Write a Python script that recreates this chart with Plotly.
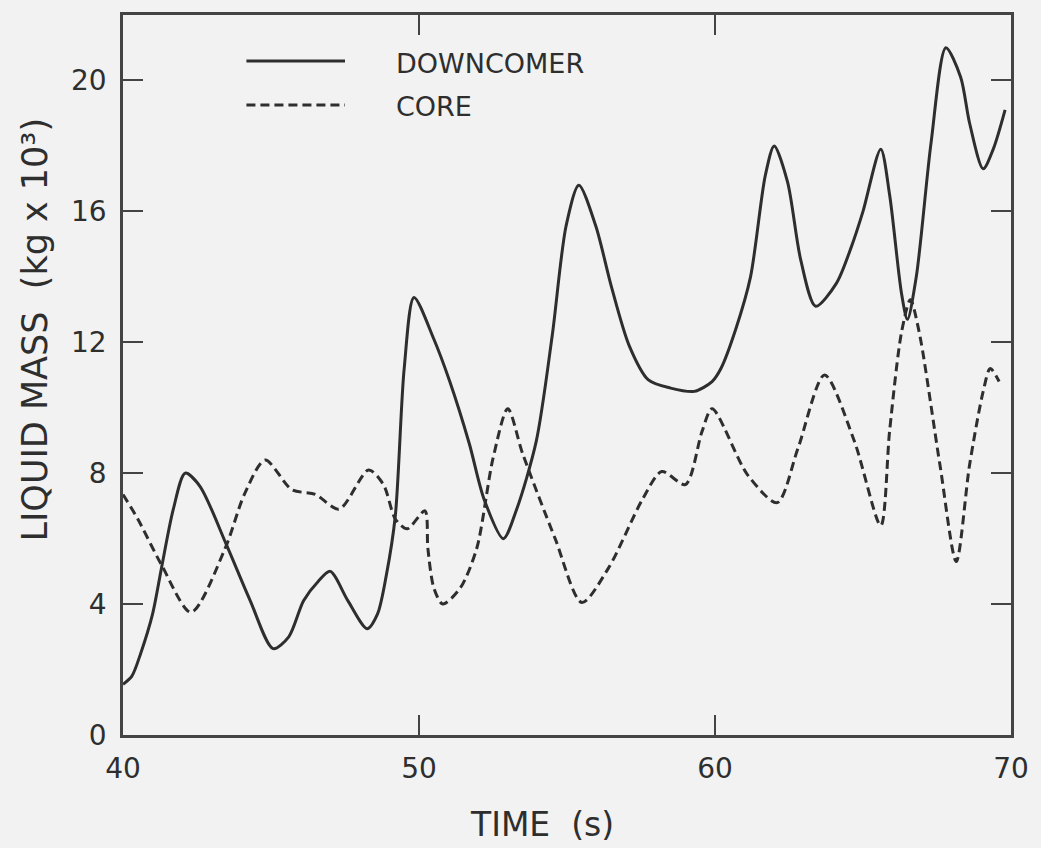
import plotly.graph_objects as go

# Downcomer liquid inventory (kg x 10^3) versus time (s)
downcomer_t = [40.0, 40.3, 40.6, 41.0, 41.3, 41.7, 42.1, 42.6, 43.5, 44.3, 45.07,
               45.6, 46.1, 46.6, 47.0, 47.6, 48.25, 48.6, 48.9, 49.2, 49.5, 49.83,
               50.5, 51.04, 51.7, 52.2, 52.85, 53.3, 53.96, 54.5, 54.97, 55.4,
               55.97, 56.5, 57.1, 57.75, 58.5, 59.3, 59.9, 60.2, 60.7, 61.2,
               61.7, 62.0, 62.45, 62.9, 63.4, 64.1, 64.6, 65.0, 65.6, 65.9,
               66.3, 66.5, 66.8, 67.3, 67.8, 68.3, 68.6, 69.06, 69.4, 69.8]
downcomer_m = [1.55, 1.8, 2.5, 3.7, 5.1, 6.9, 8.0, 7.6, 5.8, 4.1, 2.64,
               3.0, 4.1, 4.7, 5.0, 4.1, 3.25, 3.7, 4.9, 6.7, 11.2, 13.37,
               12.1, 10.8, 8.9, 7.2, 6.0, 6.9, 8.97, 12.2, 15.56, 16.8,
               15.56, 13.7, 11.9, 10.85, 10.6, 10.5, 10.8, 11.2, 12.4, 14.0,
               17.1, 18.0, 16.9, 14.5, 13.1, 13.8, 14.9, 16.0, 17.9, 16.5,
               13.5, 12.7, 14.0, 18.1, 21.0, 20.1, 18.7, 17.3, 17.9, 19.1]

# Core liquid inventory (kg x 10^3) versus time (s)
core_t = [40.0, 40.5, 41.3, 42.3, 43.45, 44.1, 44.8, 45.7, 46.5, 47.3, 48.3,
          48.8, 49.2, 49.6, 50.2, 50.3, 50.5, 50.8, 51.4, 51.95, 52.5, 53.0,
          53.5, 54.6, 55.5, 56.4, 57.55, 58.2, 59.0, 59.56, 59.9, 61.1, 62.1,
          62.8, 63.7, 64.7, 65.6, 65.9, 66.3, 66.6, 66.9, 67.6, 68.15, 68.6,
          69.06, 69.3, 69.6]
core_m = [7.35, 6.6, 5.2, 3.75, 5.7, 7.35, 8.4, 7.5, 7.35, 6.9, 8.1,
          7.65, 6.6, 6.3, 6.85, 5.7, 4.5, 4.0, 4.5, 5.7, 8.45, 9.97,
          8.6, 6.0, 4.05, 5.1, 7.2, 8.05, 7.65, 9.27, 9.97, 7.95, 7.1,
          8.75, 11.0, 9.0, 6.4, 9.3, 12.3, 13.3, 12.3, 8.25, 5.3, 8.25,
          10.5, 11.2, 10.8]

x_ticks = [40, 50, 60, 70]
y_ticks = [0, 4, 8, 12, 16, 20]
series_names = ["DOWNCOMER", "CORE"]

INK = "#2e2e2e"
FRAME = "#444444"
BG = "#f2f2f2"
FONT = "DejaVu Sans"

fig = go.Figure()
fig.add_trace(go.Scatter(
    x=downcomer_t, y=downcomer_m, mode="lines", name=series_names[0],
    line=dict(color=INK, width=3, shape="spline", smoothing=0.8),
))
fig.add_trace(go.Scatter(
    x=core_t, y=core_m, mode="lines", name=series_names[1],
    line=dict(color=INK, width=3, dash="9px,5px", shape="spline", smoothing=0.8),
))

axis_common = dict(
    showgrid=False, zeroline=False, showline=True, linecolor=FRAME,
    linewidth=2.5, ticks="inside", ticklen=20, tickwidth=2,
    tickcolor=FRAME, mirror="ticks",
    tickfont=dict(family=FONT, size=28, color=INK),
)

fig.update_layout(
    width=1041, height=848,
    margin=dict(l=123, r=22, t=12, b=113),
    paper_bgcolor=BG, plot_bgcolor=BG,
    showlegend=False,
    xaxis=dict(range=[40, 70], tickvals=x_ticks, ticklabelstandoff=7,
               ticktext=[str(v) for v in x_ticks], **axis_common),
    yaxis=dict(range=[0, 22], tickvals=y_ticks, ticklabelstandoff=8,
               ticktext=[str(v) for v in y_ticks], **axis_common),
)

# Key: sample line segments with their labels, inside the top-left of the frame
fig.add_shape(type="line", xref="paper", yref="paper",
              x0=0.139, x1=0.25, y0=0.936, y1=0.936,
              line=dict(color=INK, width=3))
fig.add_shape(type="line", xref="paper", yref="paper",
              x0=0.139, x1=0.25, y0=0.875, y1=0.875,
              line=dict(color=INK, width=3, dash="9px,5px"))
for name, yp in zip(series_names, [0.933, 0.873]):
    fig.add_annotation(text=name, xref="paper", yref="paper", x=0.305, y=yp,
                       xanchor="left", yanchor="middle", showarrow=False,
                       font=dict(family=FONT, size=27, color=INK))

# Axis titles
fig.add_annotation(text="TIME  (s)", xref="paper", yref="paper",
                   x=(546 - 123) / 896, y=(735 - 825) / 723,
                   xanchor="center", yanchor="middle", showarrow=False,
                   font=dict(family=FONT, size=33, color=INK))
fig.add_annotation(text="LIQUID MASS  (kg x 10³)", xref="paper", yref="paper",
                   x=(34 - 123) / 896, y=(735 - 328) / 723, textangle=-90,
                   xanchor="center", yanchor="middle", showarrow=False,
                   font=dict(family=FONT, size=35, color=INK))

fig.write_html("out.html")
